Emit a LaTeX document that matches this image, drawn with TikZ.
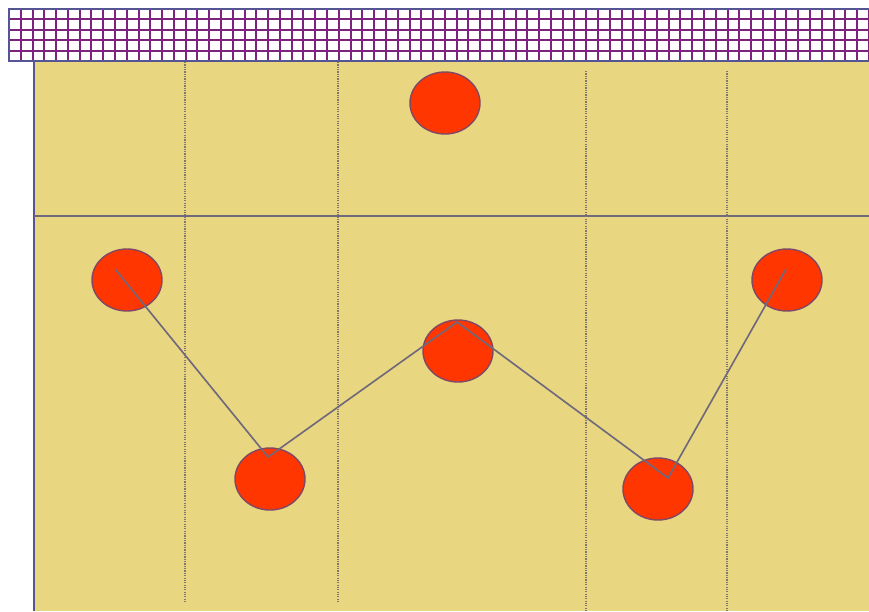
\documentclass[tikz,border=0pt]{standalone}
\usepackage{tikz}
\usepackage{xcolor}
\usetikzlibrary{shapes.geometric}

\definecolor{sand}{RGB}{233,214,128}
\definecolor{ballred}{RGB}{255,54,0}
\definecolor{ballrim}{RGB}{128,72,100}
\definecolor{wire}{RGB}{112,104,124}
\definecolor{dotline}{RGB}{128,118,112}
\definecolor{netline}{RGB}{125,35,125}
\definecolor{edgeblue}{RGB}{85,85,150}

\tikzset{
  ball/.style={ellipse, draw=ballrim, line width=1.2pt, fill=ballred,
    minimum width=70*0.03cm, minimum height=62*0.03cm, inner sep=0pt},
  divider/.style={dotline, line width=1pt, densely dotted},
  netstroke/.style={netline, line width=0.06cm},
}

\begin{document}
\begin{tikzpicture}[x=0.03cm, y=-0.03cm]
  \useasboundingbox (0,0) rectangle (869,611);

  % net band at the top
  \fill[white] (9,9) rectangle (869,61);
  \foreach \i in {0,...,73} {
    \pgfmathsetmacro{\nx}{round(9+\i*11.78)}
    \draw[netstroke] (\nx,9) -- (\nx,61);
  }
  \foreach \ny in {9,19,30,40,51} {
    \draw[netstroke] (9,\ny) -- (869,\ny);
  }
  \draw[edgeblue, line width=0.06cm] (869,9) -- (9,9) -- (9,61) -- (869,61);

  % court
  \fill[sand] (34,62) rectangle (869,611);
  \draw[edgeblue, line width=1.2pt] (34,61) -- (34,611);
  \draw[wire, line width=1.4pt] (34,216) -- (869,216);

  % zone dividers
  \draw[divider] (185,62) -- (185,603);
  \draw[divider] (338,62) -- (338,603);
  \draw[divider] (586,71) -- (586,611);
  \draw[divider] (727,71) -- (727,611);

  % balls
  \node[ball] (top)   at (445,103) {};
  \node[ball] (left)  at (127,280) {};
  \node[ball] (low1)  at (270,479) {};
  \node[ball] (mid)   at (458,351) {};
  \node[ball] (low2)  at (658,489) {};
  \node[ball] (right) at (787,280) {};

  % path of play
  \coordinate (p1) at (115,269);
  \coordinate (p2) at (268,457);
  \coordinate (p3) at (457,322);
  \coordinate (p4) at (668,478);
  \coordinate (p5) at (786,269);
  \draw[wire, line width=1.4pt, line join=miter] (p1) -- (p2) -- (p3) -- (p4) -- (p5);
\end{tikzpicture}
\end{document}
